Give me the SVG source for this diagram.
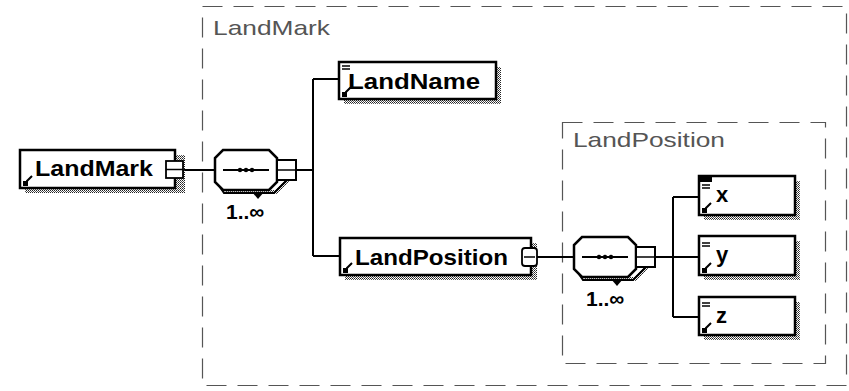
<svg xmlns="http://www.w3.org/2000/svg" width="849" height="391" viewBox="0 0 849 391">
  <defs>
    <pattern id="stip" width="2" height="2" patternUnits="userSpaceOnUse">
      <rect x="0" y="0" width="1" height="1" fill="#222"/>
      <rect x="1" y="1" width="1" height="1" fill="#555"/>
    </pattern>
    <g id="refIcon">
      <path d="M0,0 h4 v-4 l5,-5" fill="none" stroke="#000" stroke-width="2"/>
      <rect x="0" y="-4" width="4" height="4" fill="#000"/>
    </g>
    <g id="eqIcon">
      <path d="M0,0 h8 M0,3 h8" stroke="#000" stroke-width="1.5"/>
    </g>
    <g id="seq">
      <!-- repeat indicator behind the compositor -->
      <path d="M10,40 h50 l14,-14 v-4 h4 v6 l-16,16 h-50 z" fill="url(#stip)" stroke="none"/>
      <path d="M3,34 l6,9 h50 l14,-14 v-3" fill="none" stroke="#000" stroke-width="2"/>
      <path d="M37,42 l6,7 l6,-7 z" fill="#000"/>
      <polygon points="8,0 54,0 62,8 62,32 54,40 8,40 0,32 0,8" fill="#fff" stroke="#000" stroke-width="2.5"/>
      <path d="M8,20 h46" stroke="#000" stroke-width="2"/>
      <circle cx="25" cy="20" r="2.2" fill="#000"/>
      <circle cx="31" cy="20" r="2.2" fill="#000"/>
      <circle cx="37" cy="20" r="2.2" fill="#000"/>
      <rect x="62" y="10" width="19" height="20" fill="#fff" stroke="#000" stroke-width="2"/>
      <path d="M62,20 h19" stroke="#000" stroke-width="1.5"/>
    </g>
  </defs>
  <style>
    .box { fill: #fff; stroke: #000; stroke-width: 2.5; }
    .shadow { fill: url(#stip); }
    .cont { fill: none; stroke: #555; stroke-width: 1.2; stroke-dasharray: 20 11; }
    .clabel { font-family: "Liberation Sans", Arial, sans-serif; font-size: 21px; fill: #555; }
    .elabel { font-family: "Liberation Sans", Arial, sans-serif; font-size: 22px; font-weight: bold; fill: #000; }
    .mult { font-family: "Liberation Sans", Arial, sans-serif; font-size: 21px; font-weight: bold; fill: #000; }
    .conn { fill: none; stroke: #000; stroke-width: 2; }
  </style>

  <rect width="849" height="391" fill="#fff"/>

  <g id="container-LandMark">
    <rect class="cont" x="202.5" y="6.5" width="644" height="379"/>
    <text class="clabel" x="213" y="35" textLength="117" lengthAdjust="spacingAndGlyphs">LandMark</text>
  </g>

  <g id="container-LandPosition">
    <rect class="cont" x="562.5" y="122.5" width="263" height="241"/>
    <text class="clabel" x="573" y="147" textLength="152" lengthAdjust="spacingAndGlyphs">LandPosition</text>
  </g>

  <g id="connectors">
    <path class="conn" d="M183,170 H215"/>
    <path class="conn" d="M296,170 H313 M313,79 V256 M313,79 H339 M313,256 H340"/>
    <path class="conn" d="M537,257 H574"/>
    <path class="conn" d="M655,257 H673 M673,197 V317 M673,197 H699 M673,257 H699 M673,317 H699"/>
  </g>

  <g id="LandMark">
    <rect class="shadow" x="25" y="155" width="160" height="38"/>
    <rect class="box" x="20" y="150" width="155" height="38"/>
    <use href="#refIcon" x="23" y="185"/>
    <text class="elabel" x="35" y="176" textLength="118" lengthAdjust="spacingAndGlyphs">LandMark</text>
    <rect x="166" y="161" width="17" height="17" fill="#fff" stroke="#000" stroke-width="1.8"/>
    <path d="M166,169.5 h17" stroke="#000" stroke-width="1.5"/>
  </g>

  <g id="seq1">
    <use href="#seq" x="215" y="150"/>
    <text class="mult" x="226" y="219">1..∞</text>
  </g>

  <g id="LandName">
    <rect class="shadow" x="344" y="67" width="157" height="37"/>
    <rect class="box" x="339" y="62" width="157" height="37"/>
    <use href="#eqIcon" x="342" y="66"/>
    <use href="#refIcon" x="342" y="96"/>
    <text class="elabel" x="348" y="89" textLength="132" lengthAdjust="spacingAndGlyphs">LandName</text>
  </g>

  <g id="LandPosition">
    <rect class="shadow" x="345" y="243" width="192" height="37"/>
    <rect class="box" x="340" y="238" width="191" height="37"/>
    <use href="#refIcon" x="343" y="272"/>
    <text class="elabel" x="355" y="265" textLength="153" lengthAdjust="spacingAndGlyphs">LandPosition</text>
    <rect x="522" y="248" width="15" height="18" rx="3" fill="#fff" stroke="#000" stroke-width="1.8"/>
    <path d="M524,257 h11" stroke="#000" stroke-width="1.5"/>
  </g>

  <g id="seq2">
    <use href="#seq" x="574" y="237"/>
    <text class="mult" x="586" y="306">1..∞</text>
  </g>

  <g id="x">
    <rect class="shadow" x="704" y="181" width="96" height="39"/>
    <rect class="box" x="699" y="176" width="96" height="39"/>
    <rect x="700" y="177" width="12" height="5" fill="#000"/>
    <use href="#eqIcon" x="702" y="185"/>
    <use href="#refIcon" x="702" y="212"/>
    <text class="elabel" x="716" y="202">x</text>
  </g>

  <g id="y">
    <rect class="shadow" x="704" y="241" width="96" height="39"/>
    <rect class="box" x="699" y="236" width="96" height="39"/>
    <use href="#eqIcon" x="702" y="243"/>
    <use href="#refIcon" x="702" y="272"/>
    <text class="elabel" x="716" y="262">y</text>
  </g>

  <g id="z">
    <rect class="shadow" x="704" y="302" width="96" height="38"/>
    <rect class="box" x="699" y="297" width="96" height="38"/>
    <use href="#eqIcon" x="702" y="303"/>
    <use href="#refIcon" x="702" y="332"/>
    <text class="elabel" x="716" y="323">z</text>
  </g>
</svg>
